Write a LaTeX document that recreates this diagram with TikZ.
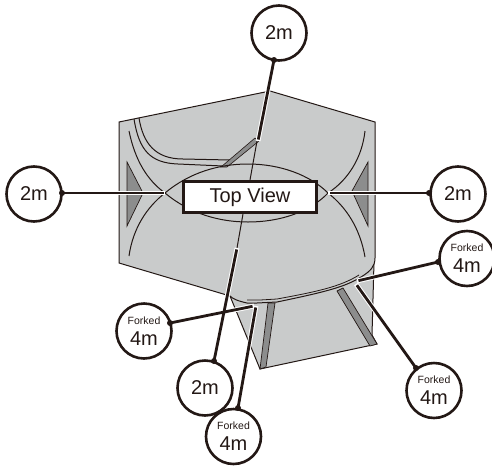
\documentclass[tikz,border=0pt]{standalone}
\usepackage{fontspec}
\setmainfont{Liberation Sans}
\definecolor{bodygray}{HTML}{C9CBCB}
\definecolor{stripgray}{HTML}{8C8D8D}
\definecolor{ink}{HTML}{231815}
\tikzset{
  badge/.style={circle,draw=ink,line width=2.6pt,fill=white,minimum size=55pt,inner sep=0pt,align=center,text=ink},
  thinline/.style={draw=ink,line width=1pt},
  halo/.style={draw=white,line width=4.8pt},
  leader/.style={draw=ink,line width=2.8pt},
  strip/.style={fill=stripgray,draw=ink,line width=.7pt},
  dot/.style={fill=ink,circle,inner sep=0pt,minimum size=6pt},
  bignum/.style={font=\fontsize{20}{22}\selectfont},
}
\newcommand{\forked}{{\fontsize{10.5}{12}\selectfont Forked}\\[6pt]{\fontsize{20}{20}\selectfont 4m}}
\begin{document}
\begin{tikzpicture}[x=1pt,y=-1pt]
\useasboundingbox (0,0) rectangle (492,466);
% lower flap
\path[fill=bodygray] (230,296) -- (260,369) -- (377,344) -- (372,335) -- (374,262) -- cycle;
\draw[thinline] (230,296) -- (260,369) -- (377,344) -- (372,335) -- (374,262);
\path[strip] (268,303) -- (275,303) -- (266,367) -- (260,369) -- cycle;
\path[strip] (337,291) -- (343,288) -- (377,344) -- (370,346) -- cycle;
% body
\path[fill=bodygray,thinline] (119,122) -- (270,91) -- (375,122) -- (375,258)
  .. controls (375,266) and (371,271) .. (361,277)
  .. controls (345,287) and (325,292) .. (277,302)
  -- (257,303) -- (247,303) .. controls (238,301) and (233,299) .. (230,296)
  -- (119,263) -- cycle;
\draw[draw=ink,line width=.8pt] (247,300) -- (260,300) -- (277,299) .. controls (315,292) and (340,287) .. (359,275);
% side triangles
\path[strip] (127,162) -- (143,193) -- (127,226) -- cycle;
\path[strip] (368,162) -- (352,191) -- (368,226) -- cycle;
% curved seams
\draw[thinline] (129,131) .. controls (135,160) and (147,180) .. (165,193);
\draw[thinline] (165,193) .. controls (147,207) and (133,228) .. (129,256);
\draw[thinline] (365,131) .. controls (362,158) and (348,180) .. (328,193);
\draw[thinline] (328,193) .. controls (346,207) and (360,228) .. (365,257);
\draw[thinline] (134,119) .. controls (139,150) and (150,163) .. (178,164) -- (223,166);
\draw[thinline] (139,118) .. controls (143,143) and (155,159) .. (183,159) -- (230,160);
\path[strip,line width=.6pt] (221,167) -- (255,138) -- (259,141) -- (227,167) -- cycle;
\draw[thinline] (165,193) .. controls (190,172) and (220,164) .. (248,164) .. controls (280,164) and (310,175) .. (328,193);
\draw[thinline] (165,193) .. controls (190,214) and (220,222) .. (248,222) .. controls (280,222) and (310,212) .. (328,193);
\draw[thinline] (257,141) -- (250,180);
\draw[thinline] (243,214) -- (237,248);
% centre box
\node[draw=ink,line width=2.4pt,fill=white,minimum width=133pt,minimum height=31pt,inner sep=0pt,text=ink,font=\fontsize{20}{22}\selectfont] (box) at (250,197) {Top View};
% anchors
\coordinate (tl) at (165,193);
\coordinate (tr) at (328,193);
\coordinate (tt) at (258,141);
\coordinate (tb) at (237,248);
\coordinate (fa) at (254,306);
\coordinate (fb) at (256,306);
\coordinate (fc) at (357,281);
\coordinate (fd) at (356,284);
% badges
\node[badge,bignum] (top) at (279,33) {2m};
\node[badge,bignum] (left) at (34,194) {2m};
\node[badge,bignum] (right) at (458,194) {2m};
\node[badge,bignum] (bot) at (205,388) {2m};
\node[badge] (fl) at (144,331) {\forked};
\node[badge] (fbot) at (233.5,436.5) {\forked};
\node[badge] (fr) at (434,390.5) {\forked};
\node[badge] (ftr) at (467,258.5) {\forked};
\coordinate (dtop) at (274,60);
\coordinate (dleft) at (62,193);
\coordinate (dright) at (429,193);
\coordinate (dbot) at (214,361);
\coordinate (dfl) at (170,323);
\coordinate (dfbot) at (238,408);
\coordinate (dfr) at (416,368);
\coordinate (dftr) at (438,262);
% leaders
\foreach \a/\b in {dtop/tt,dleft/tl,dright/tr,dbot/tb,dfl/fa,dfbot/fb,dfr/fd,dftr/fc}{
  \draw[halo,shorten <=8pt] (\a) -- (\b);
}
\foreach \a/\b in {dtop/tt,dleft/tl,dright/tr,dbot/tb,dfl/fa,dfbot/fb,dfr/fd,dftr/fc}{
  \draw[leader,shorten >=1.5pt] (\a) -- (\b);
  \node[dot] at (\a) {};
}
\end{tikzpicture}
\end{document}
